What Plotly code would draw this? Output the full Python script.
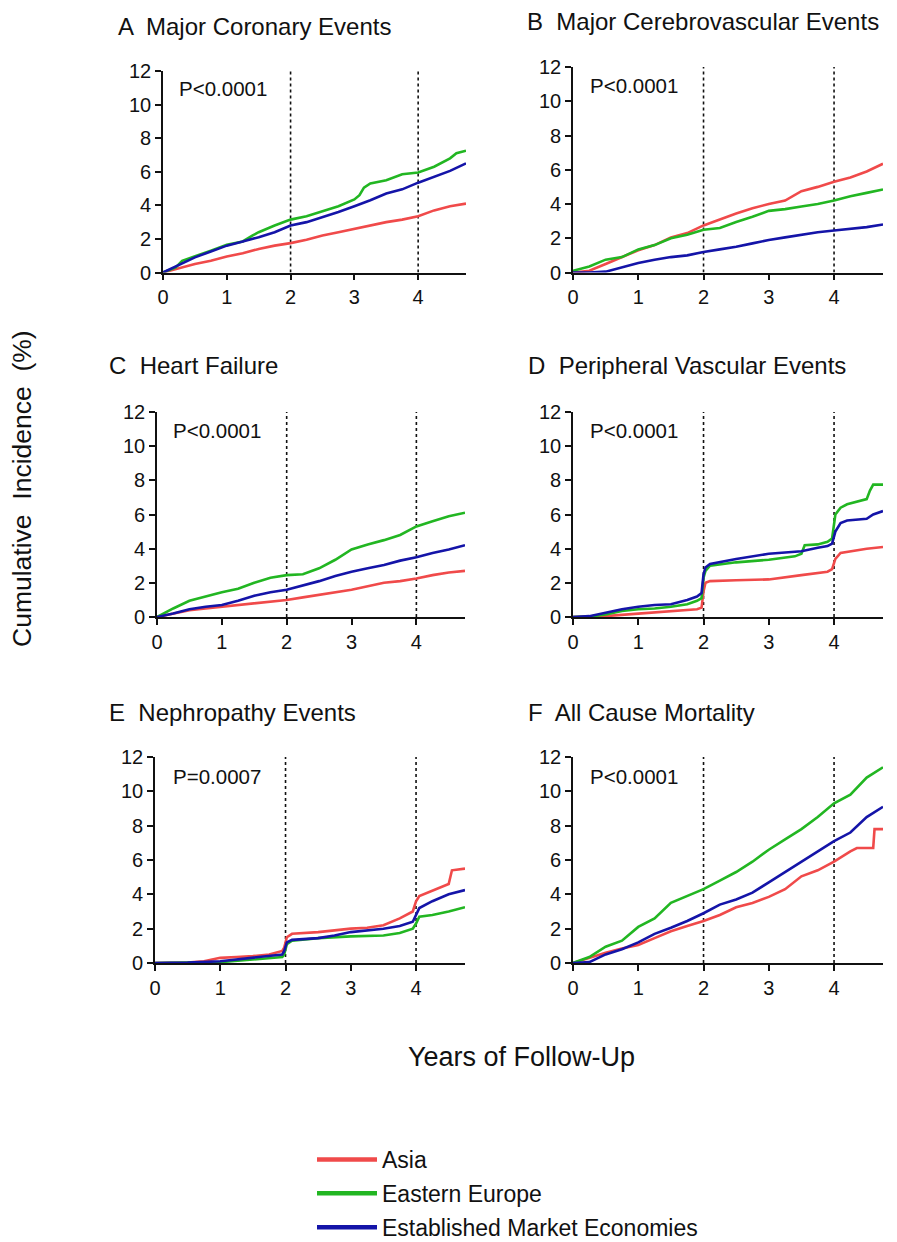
import plotly.graph_objects as go

# ---------------- data (years, cumulative incidence %) ----------------
T20 = [0, 0.25, 0.5, 0.75, 1, 1.25, 1.5, 1.75, 2, 2.25, 2.5, 2.75, 3, 3.25, 3.5, 3.75, 4, 4.25, 4.5, 4.75]

# A Major Coronary Events
A_asia_t = T20
A_asia_y = [0, 0.25, 0.5, 0.7, 0.95, 1.15, 1.4, 1.6, 1.75, 1.95, 2.2, 2.4, 2.6, 2.8, 3.0, 3.15, 3.35, 3.7, 3.95, 4.1]
A_ee_t = [0, 0.2, 0.3, 0.5, 0.75, 1, 1.25, 1.4, 1.5, 1.75, 2, 2.25, 2.5, 2.75, 3, 3.08, 3.15, 3.25, 3.5, 3.75, 4, 4.25, 4.5, 4.6, 4.75]
A_ee_y = [0, 0.3, 0.7, 0.95, 1.3, 1.65, 1.85, 2.2, 2.4, 2.8, 3.15, 3.35, 3.65, 3.95, 4.35, 4.6, 5.05, 5.3, 5.5, 5.85, 5.95, 6.3, 6.8, 7.1, 7.25]
A_eme_t = T20
A_eme_y = [0, 0.45, 0.9, 1.25, 1.6, 1.85, 2.1, 2.4, 2.8, 3.0, 3.3, 3.6, 3.95, 4.3, 4.7, 4.95, 5.35, 5.7, 6.05, 6.5]

# B Major Cerebrovascular Events
B_asia_t = T20
B_asia_y = [0, 0.1, 0.5, 0.9, 1.3, 1.6, 2.05, 2.3, 2.75, 3.1, 3.45, 3.75, 4.0, 4.2, 4.75, 5.0, 5.3, 5.55, 5.9, 6.35]
B_ee_t = T20
B_ee_y = [0.1, 0.35, 0.75, 0.9, 1.35, 1.6, 2.0, 2.2, 2.5, 2.6, 2.95, 3.25, 3.6, 3.7, 3.85, 4.0, 4.2, 4.45, 4.65, 4.85]
B_eme_t = T20
B_eme_y = [0, 0, 0.05, 0.3, 0.55, 0.75, 0.9, 1.0, 1.2, 1.35, 1.5, 1.7, 1.9, 2.05, 2.2, 2.35, 2.45, 2.55, 2.65, 2.8]

# C Heart Failure
C_asia_t = T20
C_asia_y = [0, 0.2, 0.4, 0.5, 0.6, 0.7, 0.8, 0.9, 1.0, 1.15, 1.3, 1.45, 1.6, 1.8, 2.0, 2.1, 2.25, 2.45, 2.6, 2.7]
C_ee_t = T20
C_ee_y = [0, 0.5, 0.95, 1.2, 1.45, 1.65, 2.0, 2.3, 2.45, 2.5, 2.85, 3.35, 3.95, 4.25, 4.5, 4.8, 5.3, 5.6, 5.9, 6.1]
C_eme_t = T20
C_eme_y = [0, 0.2, 0.45, 0.6, 0.7, 0.95, 1.25, 1.45, 1.6, 1.85, 2.1, 2.4, 2.65, 2.85, 3.05, 3.3, 3.5, 3.75, 3.95, 4.2]

# D Peripheral Vascular Events
D_asia_t = [0, 0.5, 1, 1.5, 1.9, 1.97, 2.0, 2.03, 2.1, 2.5, 3, 3.5, 3.9, 3.97, 4.02, 4.1, 4.5, 4.75]
D_asia_y = [0, 0.05, 0.2, 0.35, 0.45, 0.55, 1.5, 2.0, 2.1, 2.15, 2.2, 2.45, 2.65, 2.8, 3.4, 3.75, 4.0, 4.1]
D_ee_t = [0, 0.25, 0.5, 0.75, 1, 1.25, 1.5, 1.75, 1.9, 1.97, 2.0, 2.03, 2.1, 2.5, 3, 3.4, 3.5, 3.55, 3.75, 3.9, 3.97, 4.02, 4.1, 4.2, 4.5, 4.55, 4.6, 4.75]
D_ee_y = [0, 0.02, 0.15, 0.35, 0.45, 0.5, 0.6, 0.75, 0.95, 1.1, 2.3, 2.7, 3.0, 3.2, 3.35, 3.55, 3.7, 4.2, 4.25, 4.4, 4.6, 6.0, 6.4, 6.6, 6.9, 7.4, 7.75, 7.75]
D_eme_t = [0, 0.25, 0.5, 0.75, 1, 1.25, 1.5, 1.75, 1.9, 1.97, 2.0, 2.03, 2.1, 2.5, 3, 3.5, 3.75, 3.9, 3.97, 4.02, 4.1, 4.2, 4.5, 4.6, 4.75]
D_eme_y = [0, 0.05, 0.25, 0.45, 0.6, 0.7, 0.75, 1.0, 1.2, 1.4, 2.5, 2.9, 3.1, 3.4, 3.7, 3.85, 4.05, 4.15, 4.3, 5.0, 5.5, 5.65, 5.75, 6.0, 6.2]

# E Nephropathy Events
E_asia_t = [0, 0.5, 0.75, 1, 1.25, 1.5, 1.75, 1.95, 1.98, 2.02, 2.1, 2.5, 3, 3.25, 3.5, 3.75, 3.95, 4.0, 4.05, 4.25, 4.5, 4.55, 4.75]
E_asia_y = [0, 0.02, 0.1, 0.3, 0.35, 0.4, 0.5, 0.7, 0.9, 1.5, 1.7, 1.8, 2.0, 2.05, 2.2, 2.6, 3.0, 3.6, 3.9, 4.2, 4.6, 5.4, 5.5]
E_ee_t = [0, 0.75, 1, 1.5, 1.75, 1.95, 1.98, 2.02, 2.1, 2.5, 3, 3.5, 3.75, 3.95, 4.0, 4.05, 4.25, 4.5, 4.75]
E_ee_y = [0, 0.02, 0.05, 0.2, 0.3, 0.35, 0.5, 1.1, 1.3, 1.45, 1.55, 1.6, 1.75, 2.0, 2.3, 2.7, 2.8, 3.0, 3.25]
E_eme_t = [0, 0.5, 1, 1.5, 1.75, 1.95, 1.98, 2.02, 2.1, 2.5, 2.75, 3, 3.5, 3.75, 3.95, 4.0, 4.05, 4.25, 4.5, 4.75]
E_eme_y = [0, 0.02, 0.1, 0.3, 0.4, 0.5, 0.7, 1.2, 1.35, 1.45, 1.6, 1.8, 2.0, 2.15, 2.4, 2.8, 3.2, 3.6, 4.0, 4.25]

# F All Cause Mortality
F_asia_t = [0, 0.25, 0.5, 0.75, 1, 1.25, 1.5, 1.75, 2, 2.25, 2.5, 2.75, 3, 3.25, 3.5, 3.75, 4, 4.25, 4.35, 4.6, 4.62, 4.75]
F_asia_y = [0, 0.3, 0.6, 0.85, 1.05, 1.45, 1.85, 2.15, 2.45, 2.8, 3.25, 3.5, 3.85, 4.3, 5.05, 5.4, 5.9, 6.5, 6.7, 6.7, 7.8, 7.8]
F_ee_t = T20
F_ee_y = [0, 0.35, 0.95, 1.3, 2.1, 2.6, 3.5, 3.9, 4.3, 4.8, 5.3, 5.9, 6.6, 7.2, 7.8, 8.5, 9.3, 9.8, 10.8, 11.4]
F_eme_t = T20
F_eme_y = [0, 0.05, 0.5, 0.8, 1.2, 1.7, 2.05, 2.45, 2.9, 3.4, 3.7, 4.1, 4.7, 5.3, 5.9, 6.5, 7.1, 7.6, 8.5, 9.1]

panel_titles = ["A  Major Coronary Events", "B  Major Cerebrovascular Events", "C  Heart Failure",
                "D  Peripheral Vascular Events", "E  Nephropathy Events", "F  All Cause Mortality"]
p_values = ["P<0.0001", "P<0.0001", "P<0.0001", "P<0.0001", "P=0.0007", "P<0.0001"]
series_names = ["Asia", "Eastern Europe", "Established Market Economies"]
x_ticks = [0, 1, 2, 3, 4]
y_ticks = [0, 2, 4, 6, 8, 10, 12]
landmarks = [2, 4]

panels = [
    [(A_asia_t, A_asia_y), (A_ee_t, A_ee_y), (A_eme_t, A_eme_y)],
    [(B_asia_t, B_asia_y), (B_ee_t, B_ee_y), (B_eme_t, B_eme_y)],
    [(C_asia_t, C_asia_y), (C_ee_t, C_ee_y), (C_eme_t, C_eme_y)],
    [(D_asia_t, D_asia_y), (D_ee_t, D_ee_y), (D_eme_t, D_eme_y)],
    [(E_asia_t, E_asia_y), (E_ee_t, E_ee_y), (E_eme_t, E_eme_y)],
    [(F_asia_t, F_asia_y), (F_ee_t, F_ee_y), (F_eme_t, F_eme_y)],
]

# ---------------- style / layout ----------------
OFF = 8  # page body margin in the browser
W, H = 897 - OFF, 1242 - OFF
COLORS = ["#f04a4a", "#22b622", "#1414a8"]
FONT = "Liberation Sans, Arial, sans-serif"


def fx(p):
    return (p - OFF) / W


def fy(p):
    return 1 - (p - OFF) / H


# pixel boxes in window coordinates: (left, right, top(y=12), bottom(y=0))
boxes = [(163, 466, 71, 272.5), (573, 883, 67, 272.5),
         (157, 465, 412, 617), (573, 883, 412, 617),
         (155, 465, 757, 963), (573, 883, 757, 963)]
title_pos = [(116, 26), (525, 21), (107, 366), (526, 366), (107, 712), (526, 712)]
pval_pos = [(177, 89), (588, 85), (171, 430), (588, 430), (171, 776), (588, 776)]

fig = go.Figure()
layout = dict(width=W, height=H, margin=dict(l=0, r=0, t=0, b=0, autoexpand=False),
              paper_bgcolor="white", plot_bgcolor="white", showlegend=True,
              font=dict(family=FONT, color="#111"))
annotations = []
shapes = []

for i, (series, box) in enumerate(zip(panels, boxes)):
    n = "" if i == 0 else str(i + 1)
    xa, ya = "x" + n, "y" + n
    for j, (t, y) in enumerate(series):
        fig.add_trace(go.Scatter(x=t, y=y, mode="lines", xaxis=xa, yaxis=ya,
                                 line=dict(color=COLORS[j], width=2.6), showlegend=False,
                                 cliponaxis=False))
    l, r, top, bot = box
    axis_common = dict(showline=True, linecolor="#111", linewidth=1.6, ticks="outside",
                       ticklen=6, tickwidth=1.6, tickcolor="#111", showgrid=False, zeroline=False,
                       tickfont=dict(size=20, family=FONT, color="#111"), fixedrange=True,
                       automargin=False)
    layout["xaxis" + n] = dict(axis_common, domain=[fx(l), fx(r)], range=[0, 4.75],
                               tickvals=x_ticks, anchor=ya)
    layout["yaxis" + n] = dict(axis_common, domain=[fy(bot), fy(top)], range=[0, 12],
                               tickvals=y_ticks, anchor=xa)
    for xv in landmarks:
        shapes.append(dict(type="line", xref=xa, yref=ya, x0=xv, x1=xv, y0=0, y1=12,
                           line=dict(color="#111", width=1.6, dash="dot"), layer="below"))
    tx, ty = title_pos[i]
    annotations.append(dict(text=panel_titles[i], x=fx(tx), y=fy(ty), xref="paper", yref="paper",
                            xanchor="left", yanchor="middle", showarrow=False,
                            font=dict(size=24, family=FONT, color="#111")))
    px, py = pval_pos[i]
    annotations.append(dict(text=p_values[i], x=fx(px), y=fy(py), xref="paper", yref="paper",
                            xanchor="left", yanchor="middle", showarrow=False,
                            font=dict(size=20.5, family=FONT, color="#111")))

# legend-only traces (thicker sample lines)
for j, name in enumerate(series_names):
    fig.add_trace(go.Scatter(x=[None], y=[None], mode="lines", name=name, legendgroup=name,
                             line=dict(color=COLORS[j], width=4.5)))

annotations.append(dict(text="Cumulative  Incidence  (%)", x=fx(22), y=fy(489), xref="paper",
                        yref="paper", textangle=-90, showarrow=False, xanchor="center",
                        yanchor="middle", font=dict(size=26.5, family=FONT, color="#111")))
annotations.append(dict(text="Years of Follow-Up", x=fx(521), y=fy(1057), xref="paper",
                        yref="paper", showarrow=False, xanchor="center", yanchor="middle",
                        font=dict(size=27, family=FONT, color="#111")))

layout["annotations"] = annotations
layout["shapes"] = shapes
layout["legend"] = dict(x=fx(312), y=fy(1138), xanchor="left", yanchor="top",
                        bgcolor="rgba(0,0,0,0)", borderwidth=0, tracegroupgap=1,
                        itemwidth=60, font=dict(size=23, family=FONT, color="#111"))
fig.update_layout(**layout)
fig.write_html("out.html")
